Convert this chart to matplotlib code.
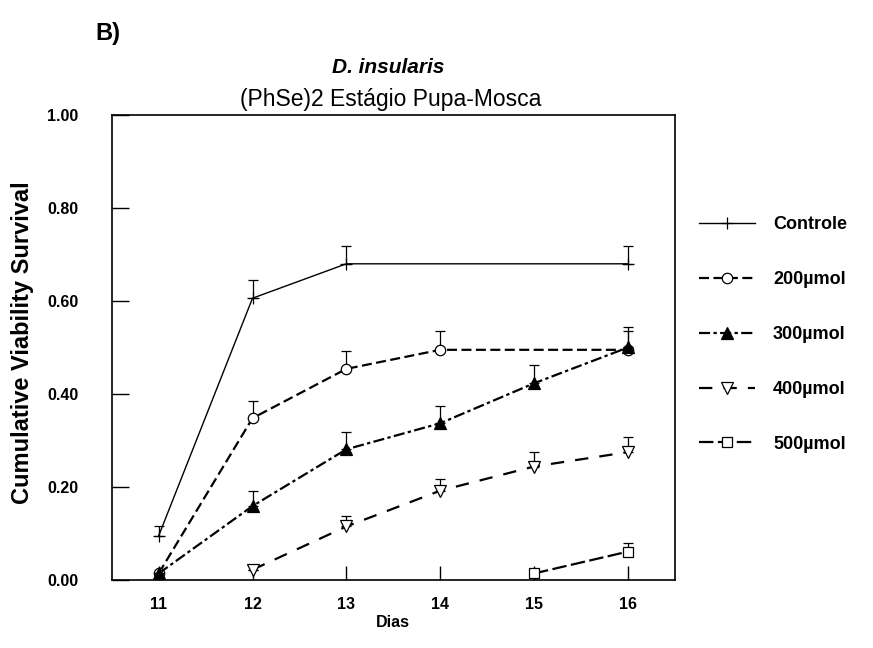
import matplotlib
matplotlib.use("Agg")
import matplotlib.pyplot as plt
import numpy as np

plt.rcParams['font.family'] = ['Liberation Sans', 'DejaVu Sans']

# data
dias_ctrl = [11, 12, 13, 16]
ctrl = [0.095, 0.606, 0.680, 0.680]
ctrl_err = [0.021, 0.039, 0.038, 0.038]

dias_200 = [11, 12, 13, 14, 16]
v200 = [0.014, 0.348, 0.454, 0.495, 0.495]
v200_err = [0.0, 0.036, 0.039, 0.040, 0.040]

dias_300 = [11, 12, 13, 14, 15, 16]
v300 = [0.014, 0.159, 0.281, 0.337, 0.423, 0.500]
v300_err = [0.0, 0.033, 0.037, 0.038, 0.039, 0.043]

dias_400 = [12, 13, 14, 15, 16]
v400 = [0.022, 0.115, 0.192, 0.244, 0.275]
v400_err = [0.0, 0.023, 0.025, 0.031, 0.032]

dias_500 = [15, 16]
v500 = [0.014, 0.061]
v500_err = [0.0, 0.018]

labels = ['Controle', '200µmol', '300µmol', '400µmol', '500µmol']
yticks = [0.0, 0.2, 0.4, 0.6, 0.8, 1.0]
xticks = [11, 12, 13, 14, 15, 16]

fig = plt.figure(figsize=(8.73, 6.48), dpi=100)
ax = fig.add_axes([0.128, 0.105, 0.645, 0.7175])

series = [
    (dias_ctrl, ctrl, ctrl_err, dict(ls='-', lw=1.0, marker='+', ms=8, mfc='k')),
    (dias_200, v200, v200_err, dict(ls=(0, (4.5, 2)), lw=1.6, marker='o', ms=7.5, mfc='white')),
    (dias_300, v300, v300_err, dict(ls=(0, (5, 1.5, 1.5, 1.5)), lw=1.6, marker='^', ms=8, mfc='black')),
    (dias_400, v400, v400_err, dict(ls=(0, (6, 5)), lw=1.6, marker='v', ms=8, mfc='white')),
    (dias_500, v500, v500_err, dict(ls=(0, (6.5, 2)), lw=1.6, marker='s', ms=6.5, mfc='white')),
]

handles = []
for x, y, e, st in series:
    y = np.array(y)
    e = np.array(e)
    ax.errorbar(x, y, yerr=[np.zeros_like(e), e], fmt='none', ecolor='k',
                elinewidth=0.9, capsize=3.5, capthick=0.9)
    h, = ax.plot(x, y, color='k', mec='k', mew=0.9, **st)
    handles.append(h)

ax.set_xlim(10.5, 16.5)
ax.set_ylim(0, 1.0)
ax.set_xticks(xticks)
ax.set_yticks(yticks)
ax.set_yticklabels(['%.2f' % t for t in yticks])
ax.tick_params(direction='in', width=1, labelsize=11.5)
ax.tick_params(axis='x', length=10, pad=12)
ax.tick_params(axis='y', length=12, pad=24)
for lab in ax.get_xticklabels() + ax.get_yticklabels():
    lab.set_fontweight('bold')
for s in ax.spines.values():
    s.set_linewidth(1.2)

ax.set_xlabel('Dias', fontsize=11.5, fontweight='bold')
ax.xaxis.set_label_coords(0.5, -0.075)
ax.set_ylabel('Cumulative Viability Survival', fontsize=17, fontweight='bold')
ax.yaxis.set_label_coords(-0.138, 0.51)

fig.text(0.445, 0.8966, 'D. insularis', ha='center', va='center', fontsize=15,
         fontweight='bold', fontstyle='italic')
fig.text(0.447, 0.847, '(PhSe)2 Estágio Pupa-Mosca', ha='center', va='center', fontsize=16.5)
fig.text(0.109, 0.949, 'B)', ha='left', va='center', fontsize=17, fontweight='bold')

leg = ax.legend(handles, labels, loc='center left', bbox_to_anchor=(1.043, 0.528),
                frameon=False, borderpad=0, borderaxespad=0, handlelength=3.1,
                labelspacing=2.1, handletextpad=1.0,
                prop={'weight': 'bold', 'size': 13})

fig.savefig('out.png', dpi=100)
